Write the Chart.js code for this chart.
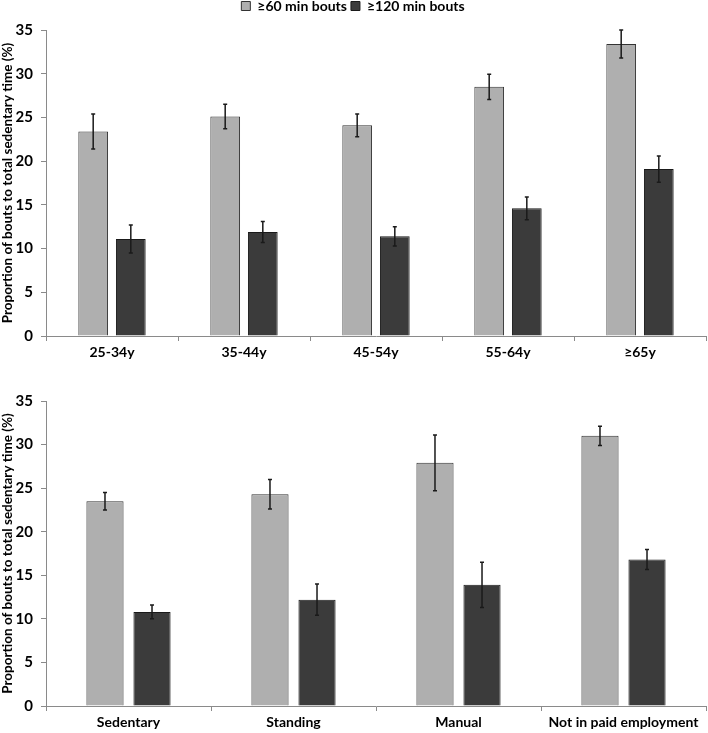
<!DOCTYPE html>
<html>
<head>
<meta charset="utf-8">
<script src="https://cdn.jsdelivr.net/npm/chart.js@4.4.1/dist/chart.umd.min.js"></script>
<style>
  body { margin: 0; background: #fff; }
  canvas { display: block; }
</style>
</head>
<body>
<canvas id="ageChart" width="708" height="365"></canvas>
<canvas id="jobChart" width="708" height="368"></canvas>
<script>
const seriesNames = ['≥60 min bouts', '≥120 min bouts'];

const ageLabels = ['25-34y', '35-44y', '45-54y', '55-64y', '≥65y'];
const age60 = [23.4, 25.1, 24.1, 28.5, 33.4];
const age60Err = [2.0, 1.4, 1.3, 1.45, 1.6];
const age120 = [11.1, 11.9, 11.4, 14.6, 19.1];
const age120Err = [1.6, 1.2, 1.1, 1.3, 1.5];

const jobLabels = ['Sedentary', 'Standing', 'Manual', 'Not in paid employment'];
const job60 = [23.5, 24.3, 27.9, 31.0];
const job60Err = [1.0, 1.7, 3.2, 1.1];
const job120 = [10.8, 12.2, 13.9, 16.8];
const job120Err = [0.8, 1.8, 2.6, 1.15];

const yTicks = { min: 0, max: 35, step: 5 };
const fontFamily = 'Lato, "Open Sans", sans-serif';

// draws the +/- error bars on top of each bar
const errorBars = {
  id: 'errorBars',
  afterDatasetsDraw(chart) {
    const ctx = chart.ctx;
    const y = chart.scales.y;
    chart.data.datasets.forEach((ds, i) => {
      const meta = chart.getDatasetMeta(i);
      if (meta.hidden) return;
      meta.data.forEach((bar, j) => {
        const v = ds.data[j], e = ds.errors[j];
        const top = y.getPixelForValue(v + e);
        const bot = y.getPixelForValue(v - e);
        ctx.save();
        ctx.strokeStyle = '#1a1a1a';
        ctx.lineWidth = 1.5;
        ctx.beginPath();
        ctx.moveTo(bar.x, top); ctx.lineTo(bar.x, bot);
        ctx.moveTo(bar.x - 2, top); ctx.lineTo(bar.x + 2, top);
        ctx.moveTo(bar.x - 2, bot); ctx.lineTo(bar.x + 2, bot);
        ctx.stroke();
        ctx.restore();
      });
    });
  }
};

// legend sits higher, with a bit more room under it
const legendNudge = {
  id: 'legendNudge',
  beforeLayout(chart) {
    const lg = chart.legend;
    if (lg && !lg._nudged) {
      const fit = lg.fit;
      lg.fit = function () { fit.call(this); this.height += 2; };
      lg._nudged = true;
    }
  },
  afterLayout(chart) {
    if (chart.legend) { chart.legend.top -= 5; chart.legend.bottom -= 5; }
  }
};

function makeChart(id, labels, s60, e60, s120, e120, withLegend, padTop, xHeight) {
  return new Chart(document.getElementById(id), {
    type: 'bar',
    data: {
      labels: labels,
      datasets: [
        {
          label: seriesNames[0],
          data: s60,
          errors: e60,
          backgroundColor: '#afafaf',
          borderColor: '#333333',
          borderWidth: 1,
          categoryPercentage: 0.57,
          barPercentage: 0.79,
        },
        {
          label: seriesNames[1],
          data: s120,
          errors: e120,
          backgroundColor: '#3b3b3b',
          borderColor: '#1a1a1a',
          borderWidth: 1,
          categoryPercentage: 0.57,
          barPercentage: 0.79,
        },
      ],
    },
    options: {
      responsive: false,
      animation: false,
      layout: { padding: { left: 0, right: 2, top: padTop, bottom: 0 } },
      plugins: {
        legend: {
          display: withLegend,
          position: 'top',
          labels: {
            boxWidth: 9,
            boxHeight: 9,
            padding: 4,
            color: '#000',
            font: { family: fontFamily, size: 14, weight: 'bold' },
          },
        },
        tooltip: { enabled: false },
      },
      scales: {
        x: {
          afterFit: (s) => { s.height = xHeight; },
          border: { color: '#8a8a8a', width: 1 },
          grid: { display: true, drawOnChartArea: false, drawTicks: true, tickLength: 5, color: '#8a8a8a', offset: true },
          ticks: { color: '#000', padding: 3, font: { family: fontFamily, size: 14, weight: 'bold' } },
        },
        y: {
          min: yTicks.min,
          max: yTicks.max,
          afterFit: (s) => { s.width = 46; },
          border: { color: '#8a8a8a', width: 1 },
          grid: { display: true, drawOnChartArea: false, drawTicks: true, tickLength: 5, color: '#8a8a8a' },
          ticks: { stepSize: yTicks.step, color: '#000', padding: 8, font: { family: fontFamily, size: 15, weight: 'bold' } },
          title: {
            display: true,
            text: 'Proportion of bouts to total sedentary time (%)',
            color: '#000',
            padding: { top: 0, bottom: 0 },
            font: { family: fontFamily, size: 13.5, weight: 'bold' },
          },
        },
      },
    },
    plugins: [errorBars, legendNudge],
  });
}

makeChart('ageChart', ageLabels, age60, age60Err, age120, age120Err, true, 0, 29);
makeChart('jobChart', jobLabels, job60, job60Err, job120, job120Err, false, 34, 27);
</script>
</body>
</html>
